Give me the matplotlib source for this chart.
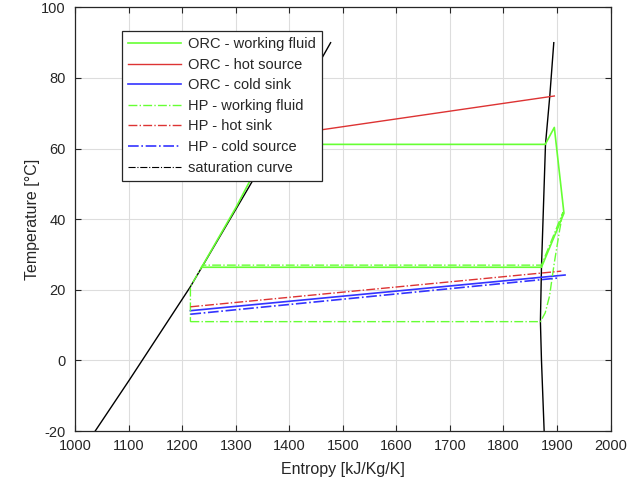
import matplotlib
matplotlib.use("Agg")
import matplotlib.pyplot as plt
from matplotlib.lines import Line2D

plt.rcParams['font.family'] = ['Liberation Sans', 'DejaVu Sans']
plt.rcParams['axes.unicode_minus'] = False

# ORC working fluid cycle (entropy, temperature)
orc_wf_s = [1236, 1300, 1362, 1878, 1895, 1913, 1871, 1236]
orc_wf_t = [26.4, 43.3, 61.2, 61.2, 66.0, 41.7, 26.4, 26.4]
# ORC hot source
orc_hs_s = [1236, 1895]
orc_hs_t = [60.4, 74.9]
# ORC cold sink
orc_cs_s = [1215, 1915]
orc_cs_t = [14.1, 24.2]
# HP working fluid cycle
hp_wf_s = [1215, 1869, 1878, 1886, 1895, 1905, 1911, 1871, 1238, 1215, 1215]
hp_wf_t = [11.0, 11.0, 13.5, 18.2, 27.7, 37.0, 41.9, 27.0, 27.0, 20.9, 11.0]
# HP hot sink
hp_hs_s = [1215, 1908]
hp_hs_t = [15.2, 25.3]
# HP cold source
hp_cs_s = [1215, 1905]
hp_cs_t = [13.1, 23.4]
# Saturation curve: liquid and vapour branches
sat_liq_s = [1037, 1101, 1215, 1332, 1477]
sat_liq_t = [-20, -5.5, 20.9, 51.1, 90]
sat_vap_s = [1876, 1871, 1869, 1871, 1878.5, 1886.6, 1894]
sat_vap_t = [-20, 0, 11, 26.4, 61.2, 75, 90]

x_ticks = list(range(1000, 2001, 100))
y_ticks = list(range(-20, 101, 20))

GREEN = '#66ff33'
RED = '#dd3333'
BLUE = '#3333ff'

fig = plt.figure(figsize=(6.44, 4.91), dpi=100)
ax = fig.add_axes([0.117, 0.122, 0.831, 0.863])

ax.plot(sat_liq_s, sat_liq_t, color='black', lw=1.0, zorder=2)
ax.plot(sat_vap_s, sat_vap_t, color='black', lw=1.0, zorder=2)
ax.plot(orc_wf_s, orc_wf_t, color=GREEN, lw=1.2, zorder=3)
ax.plot(orc_hs_s, orc_hs_t, color=RED, lw=1.0, zorder=3)
ax.plot(orc_cs_s, orc_cs_t, color=BLUE, lw=1.2, zorder=3)
ax.plot(hp_wf_s, hp_wf_t, color=GREEN, lw=1.0, ls='-.', zorder=3)
ax.plot(hp_hs_s, hp_hs_t, color=RED, lw=1.0, ls='-.', zorder=3)
ax.plot(hp_cs_s, hp_cs_t, color=BLUE, lw=1.2, ls='-.', zorder=3)

handles = [
    Line2D([], [], color=GREEN, lw=1.2),
    Line2D([], [], color=RED, lw=1.0),
    Line2D([], [], color=BLUE, lw=1.2),
    Line2D([], [], color=GREEN, lw=1.0, ls='-.'),
    Line2D([], [], color=RED, lw=1.0, ls='-.'),
    Line2D([], [], color=BLUE, lw=1.2, ls='-.'),
    Line2D([], [], color='black', lw=0.8, ls='-.'),
]
labels = ['ORC - working fluid', 'ORC - hot source', 'ORC - cold sink',
          'HP - working fluid', 'HP - hot sink', 'HP - cold source',
          'saturation curve']

ax.set_xlim(1000, 2000)
ax.set_ylim(-20, 100)
ax.set_xticks(x_ticks)
ax.set_yticks(y_ticks)
ax.tick_params(direction='in', length=4, labelsize=10.5, color='#262626',
               labelcolor='#262626', top=True, right=True, labeltop=False, labelright=False)
ax.tick_params(axis='x', pad=6)
ax.tick_params(axis='y', pad=7)
ax.grid(True, color='#dddddd', lw=0.8)
ax.set_axisbelow(True)
for sp in ax.spines.values():
    sp.set_color('#262626')
    sp.set_linewidth(0.9)
ax.set_xlabel('Entropy [kJ/Kg/K]', fontsize=11.5, color='#262626', labelpad=6)
ax.set_ylabel('Temperature [°C]', fontsize=11.5, color='#262626', labelpad=1)

leg = ax.legend(handles, labels, loc='upper left', bbox_to_anchor=(0.087, 0.945),
                fontsize=10.5, frameon=True, fancybox=False, framealpha=1,
                edgecolor='#262626', handlelength=3.6, handletextpad=0.45,
                labelspacing=0.45, borderpad=0.45, borderaxespad=0)
leg.get_frame().set_linewidth(0.9)
leg.set_zorder(10)
for t in leg.get_texts():
    t.set_color('#262626')

fig.savefig('out.png', dpi=100)
